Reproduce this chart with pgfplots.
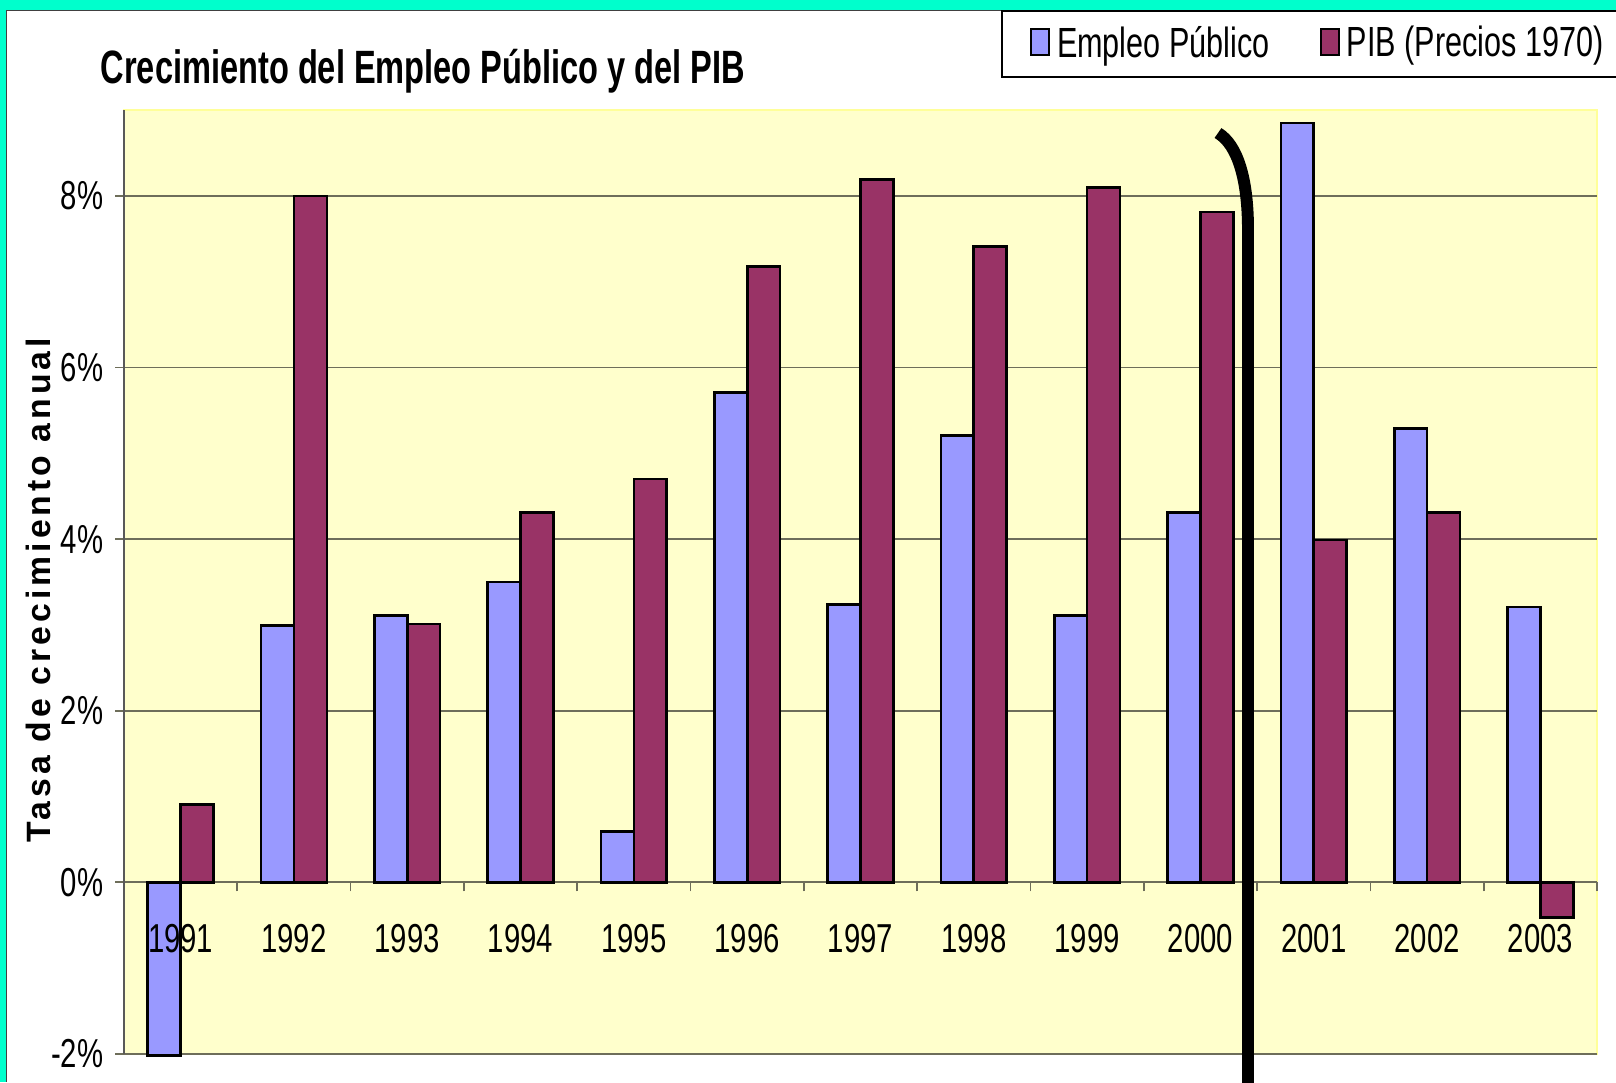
\documentclass[border=0pt]{standalone}
\usepackage{fontspec}
\setmainfont{Liberation Sans}
\newfontfamily\tickfont{Liberation Sans}[FakeStretch=0.725]
\newfontfamily\legfont{Liberation Sans}[FakeStretch=0.725]
\newfontfamily\titfont{Liberation Sans}[FakeStretch=0.697]
\newfontfamily\ylabfont{Liberation Sans}[LetterSpace=12]
\usepackage{pgfplots}
\pgfplotsset{compat=1.18}
\pgfdeclarelayer{frame}
\pgfplotsset{
  layers/labelsontop/.define layer set={
    frame,axis background,axis grid,axis ticks,axis lines,pre main,main,
    axis tick labels,axis descriptions,axis foreground
  }{/pgfplots/layers/standard},
}
\definecolor{framecol}{HTML}{00FFCC}
\definecolor{bgyellow}{HTML}{FFFFCC}
\definecolor{edgeyellow}{HTML}{FFFF99}
\definecolor{empleo}{HTML}{9999FF}
\definecolor{pib}{HTML}{993366}
\definecolor{gridcol}{HTML}{6E6E5A}
\begin{document}
\begin{tikzpicture}
\begin{axis}[
  set layers=labelsontop,
  at={(1.24cm,0.28cm)}, anchor=south west,
  width=14.73cm, height=9.44cm, scale only axis,
  clip=false,
  xmin=-0.5, xmax=12.5, ymin=-2, ymax=9,
  axis x line=middle, axis y line=left,
  x axis line style={-, draw=gridcol, line width=0.5pt},
  y axis line style={-, draw=black!65, line width=0.6pt},
  axis background/.style={fill=bgyellow, draw=edgeyellow, line width=0.7pt},
  ymajorgrids, grid style={draw=gridcol, line width=0.5pt},
  ytick={-2,0,2,4,6,8},
  yticklabels={-2\%,0\%,2\%,4\%,6\%,8\%},
  xtick={-0.5,0.5,...,12.5},
  xticklabels={},
  extra x ticks={0,1,2,3,4,5,6,7,8,9,10,11,12},
  extra x tick labels={1991,1992,1993,1994,1995,1996,1997,1998,1999,2000,2001,2002,2003},
  extra x tick style={major tick length=0pt, grid=none,
    xticklabel style={anchor=base, inner sep=0pt, yshift=-0.70cm}},
  tick align=outside,
  major tick length=0.09cm,
  tick style={draw=gridcol, line width=0.5pt},
  tick label style={font=\tickfont\fontsize{11.5pt}{13pt}\selectfont, text=black},
  yticklabel style={anchor=east, inner sep=0pt, xshift=-0.11cm},
  ybar=0pt, bar width=0.29,
  title={Crecimiento del Empleo Público y del PIB},
  title style={at={(-0.0163,1.0056)}, anchor=base west, inner sep=0pt,
    font=\titfont\bfseries\fontsize{13.3pt}{15pt}\selectfont},
  ylabel={Tasa de crecimiento anual},
  ylabel style={at={(-0.0496,0.4915)}, anchor=base, inner sep=0pt,
    font=\ylabfont\bfseries\fontsize{9.6pt}{11pt}\selectfont},
  legend columns=2,
  legend style={at={(0.5954,1.1059)}, anchor=north west, draw=black, line width=0.5pt,
    fill=white, font=\legfont\fontsize{12pt}{14pt}\selectfont,
    inner xsep=0.28cm, inner ysep=0.08cm,
    /tikz/every even column/.append style={column sep=0.43cm}},
  legend cell align=left,
]
\begin{pgfonlayer}{frame}
\fill[framecol] (rel axis cs:-0.08418,-0.02966) rectangle (rel axis cs:1.01290,1.11653);
\fill[white] (rel axis cs:-0.07943,-0.02966) rectangle (rel axis cs:1.01290,1.10593);
\draw[black!75, line width=0.45pt] (rel axis cs:-0.07977,-0.02966) -- (rel axis cs:-0.07977,1.10540) -- (rel axis cs:1.01290,1.10540);
\end{pgfonlayer}
\addplot[fill=empleo, draw=black, line width=0.75pt,
  legend image code/.code={\draw[fill=empleo, draw=black, line width=0.6pt] (0cm,-0.11cm) rectangle (0.18cm,0.15cm);}]
  coordinates {(0,-2.02) (1,2.99) (2,3.11) (3,3.50) (4,0.59) (5,5.71) (6,3.24)
               (7,5.21) (8,3.11) (9,4.31) (10,8.85) (11,5.29) (12,3.21)};
\addplot[fill=pib, draw=black, line width=0.75pt,
  legend image code/.code={\draw[fill=pib, draw=black, line width=0.6pt] (0cm,-0.11cm) rectangle (0.18cm,0.15cm);}]
  coordinates {(0,0.91) (1,8.00) (2,3.01) (3,4.31) (4,4.70) (5,7.18) (6,8.19)
               (7,7.41) (8,8.10) (9,7.81) (10,3.99) (11,4.31) (12,-0.41)};
\legend{Empleo Público, PIB (Precios 1970)}
\draw[black, line width=3.4pt] (axis cs:9.155,8.732) .. controls (axis cs:9.331,8.592) and (axis cs:9.42,8.185) .. (axis cs:9.42,7.602) -- (axis cs:9.42,-2.7);
\end{axis}
\pgfresetboundingbox
\useasboundingbox (0,0) rectangle (16.16cm,10.82cm);
\end{tikzpicture}
\end{document}
